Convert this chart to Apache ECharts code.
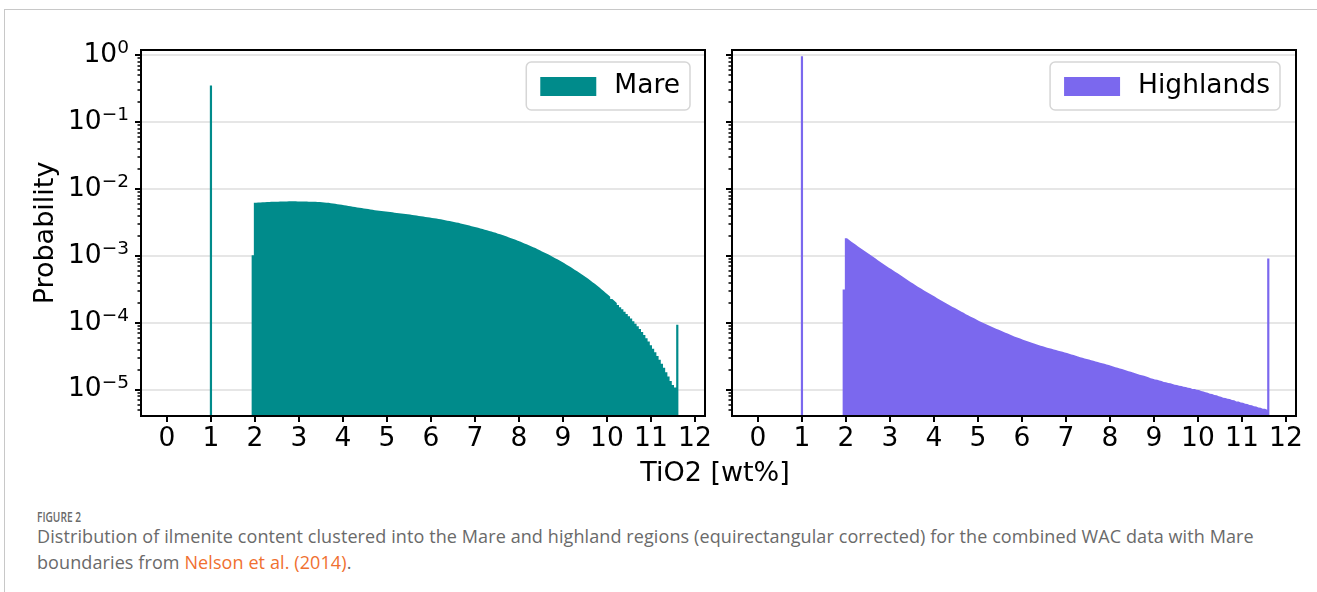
<!DOCTYPE html>
<html>
<head>
<meta charset="utf-8">
<script src="https://cdn.jsdelivr.net/npm/echarts@6/dist/echarts.min.js"></script>
<style>
  html, body { margin: 0; padding: 0; background: #fff; width: 1317px; height: 592px; overflow: hidden; }
  #frame { position: absolute; left: 4px; top: 9px; width: 1400px; height: 700px;
           border-top: 1px solid #c8c8c8; border-left: 1px solid #c8c8c8; }
  #chart { position: absolute; left: 0; top: 0; width: 1317px; height: 500px; }
  .caption { position: absolute; left: 37px; font-family: 'Open Sans', sans-serif; color: #6a6a6a;
             transform-origin: 0 0; white-space: nowrap; }
  #figlabel { top: 507px; font-size: 14.5px; font-weight: 600; transform: scaleX(0.7); }
  #figtext { top: 523px; font-size: 18px; line-height: 26px; letter-spacing: 0.1px; }
  #figtext a { color: #f07030; text-decoration: none; }
</style>
</head>
<body>
<div id="frame"></div>
<div id="chart"></div>
<div class="caption" id="figlabel">FIGURE 2</div>
<div class="caption" id="figtext">Distribution of ilmenite content clustered into the Mare and highland regions (equirectangular corrected) for the combined WAC data with Mare<br>boundaries from <a>Nelson et al. (2014)</a>.</div>
<script>
// Histogram bins (TiO2 wt%): uniform bins starting at FIRST_EDGE.
// Index 0 is the partial bin just below 2 wt%, the last entry is the bin
// where values clipped at the upper limit pile up.
const BIN_WIDTH = 0.05;
const FIRST_EDGE = 1.925;
// Values clipped at the lower limit all land in one bin at 1 wt%.
const CLIP_LOW_X = 1.0;

const mareClipLow = 0.35;
const mareProb = [
  1.02e-3,
  6.19e-3, 6.24e-3, 6.27e-3, 6.30e-3, 6.32e-3, 6.35e-3, 6.37e-3, 6.40e-3, 6.41e-3, 6.43e-3,
  6.44e-3, 6.46e-3, 6.47e-3, 6.49e-3, 6.49e-3, 6.50e-3, 6.50e-3, 6.50e-3, 6.50e-3, 6.49e-3,
  6.49e-3, 6.47e-3, 6.46e-3, 6.46e-3, 6.44e-3, 6.43e-3, 6.41e-3, 6.40e-3, 6.37e-3, 6.34e-3,
  6.31e-3, 6.27e-3, 6.22e-3, 6.17e-3, 6.11e-3, 6.04e-3, 5.97e-3, 5.90e-3, 5.83e-3, 5.77e-3,
  5.69e-3, 5.62e-3, 5.55e-3, 5.48e-3, 5.42e-3, 5.35e-3, 5.28e-3, 5.22e-3, 5.15e-3, 5.09e-3,
  5.04e-3, 4.98e-3, 4.91e-3, 4.85e-3, 4.80e-3, 4.75e-3, 4.71e-3, 4.66e-3, 4.61e-3, 4.57e-3,
  4.53e-3, 4.49e-3, 4.45e-3, 4.41e-3, 4.37e-3, 4.33e-3, 4.29e-3, 4.25e-3, 4.21e-3, 4.17e-3,
  4.12e-3, 4.07e-3, 4.03e-3, 3.98e-3, 3.94e-3, 3.90e-3, 3.85e-3, 3.81e-3, 3.77e-3, 3.72e-3,
  3.67e-3, 3.63e-3, 3.59e-3, 3.55e-3, 3.50e-3, 3.45e-3, 3.40e-3, 3.34e-3, 3.30e-3, 3.24e-3,
  3.20e-3, 3.15e-3, 3.10e-3, 3.04e-3, 2.99e-3, 2.93e-3, 2.88e-3, 2.82e-3, 2.77e-3, 2.72e-3,
  2.66e-3, 2.61e-3, 2.55e-3, 2.50e-3, 2.45e-3, 2.40e-3, 2.34e-3, 2.30e-3, 2.25e-3, 2.20e-3,
  2.14e-3, 2.09e-3, 2.04e-3, 1.99e-3, 1.94e-3, 1.88e-3, 1.83e-3, 1.78e-3, 1.73e-3, 1.68e-3,
  1.63e-3, 1.58e-3, 1.53e-3, 1.48e-3, 1.44e-3, 1.39e-3, 1.34e-3, 1.30e-3, 1.25e-3, 1.21e-3,
  1.16e-3, 1.12e-3, 1.08e-3, 1.04e-3, 9.98e-4, 9.59e-4, 9.20e-4, 8.83e-4, 8.47e-4, 8.11e-4,
  7.76e-4, 7.41e-4, 7.08e-4, 6.76e-4, 6.44e-4, 6.14e-4, 5.85e-4, 5.57e-4, 5.30e-4, 5.02e-4,
  4.76e-4, 4.51e-4, 4.27e-4, 4.03e-4, 3.80e-4, 3.58e-4, 3.37e-4, 3.16e-4, 2.96e-4, 2.78e-4,
  2.60e-4, 2.43e-4, 2.26e-4, 2.11e-4, 1.97e-4, 1.83e-4, 1.70e-4, 1.58e-4, 1.46e-4, 1.35e-4,
  1.25e-4, 1.15e-4, 1.05e-4, 9.66e-5, 8.81e-5, 8.02e-5, 7.26e-5, 6.55e-5, 5.86e-5, 5.21e-5,
  4.61e-5, 4.07e-5, 3.60e-5, 3.17e-5, 2.78e-5, 2.43e-5, 2.11e-5, 1.82e-5, 1.56e-5, 1.34e-5,
  1.17e-5, 1.07e-5,
  9.3e-5
];

const highlandsClipLow = 0.96;
const highlandsProb = [
  3.14e-4,
  1.82e-3, 1.72e-3, 1.62e-3, 1.54e-3, 1.46e-3, 1.38e-3, 1.31e-3, 1.24e-3, 1.18e-3, 1.12e-3,
  1.06e-3, 1.01e-3, 9.55e-4, 9.06e-4, 8.59e-4, 8.15e-4, 7.73e-4, 7.35e-4, 6.98e-4, 6.64e-4,
  6.31e-4, 6.01e-4, 5.73e-4, 5.46e-4, 5.19e-4, 4.93e-4, 4.69e-4, 4.46e-4, 4.24e-4, 4.03e-4,
  3.83e-4, 3.65e-4, 3.48e-4, 3.32e-4, 3.17e-4, 3.03e-4, 2.89e-4, 2.77e-4, 2.65e-4, 2.54e-4,
  2.43e-4, 2.32e-4, 2.22e-4, 2.13e-4, 2.04e-4, 1.95e-4, 1.87e-4, 1.79e-4, 1.72e-4, 1.65e-4,
  1.58e-4, 1.52e-4, 1.46e-4, 1.40e-4, 1.34e-4, 1.29e-4, 1.24e-4, 1.19e-4, 1.15e-4, 1.10e-4,
  1.06e-4, 1.02e-4, 9.84e-5, 9.51e-5, 9.18e-5, 8.87e-5, 8.59e-5, 8.32e-5, 8.05e-5, 7.80e-5,
  7.55e-5, 7.31e-5, 7.08e-5, 6.86e-5, 6.64e-5, 6.43e-5, 6.22e-5, 6.05e-5, 5.89e-5, 5.73e-5,
  5.57e-5, 5.42e-5, 5.27e-5, 5.13e-5, 5.00e-5, 4.88e-5, 4.75e-5, 4.63e-5, 4.53e-5, 4.43e-5,
  4.33e-5, 4.23e-5, 4.14e-5, 4.06e-5, 3.97e-5, 3.89e-5, 3.81e-5, 3.73e-5, 3.66e-5, 3.58e-5,
  3.51e-5, 3.43e-5, 3.35e-5, 3.27e-5, 3.20e-5, 3.13e-5, 3.05e-5, 2.99e-5, 2.92e-5, 2.86e-5,
  2.80e-5, 2.74e-5, 2.69e-5, 2.63e-5, 2.58e-5, 2.52e-5, 2.47e-5, 2.42e-5, 2.37e-5, 2.32e-5,
  2.26e-5, 2.21e-5, 2.16e-5, 2.11e-5, 2.07e-5, 2.02e-5, 1.97e-5, 1.93e-5, 1.88e-5, 1.84e-5,
  1.80e-5, 1.75e-5, 1.71e-5, 1.67e-5, 1.63e-5, 1.60e-5, 1.56e-5, 1.52e-5, 1.48e-5, 1.45e-5,
  1.41e-5, 1.40e-5, 1.36e-5, 1.34e-5, 1.30e-5, 1.29e-5, 1.25e-5, 1.24e-5, 1.21e-5, 1.18e-5,
  1.17e-5, 1.14e-5, 1.13e-5, 1.10e-5, 1.09e-5, 1.06e-5, 1.05e-5, 1.02e-5, 1.02e-5, 9.90e-6,
  9.80e-6, 9.52e-6, 9.38e-6, 9.08e-6, 8.95e-6, 8.68e-6, 8.55e-6, 8.28e-6, 8.18e-6, 7.90e-6,
  7.80e-6, 7.55e-6, 7.50e-6, 7.25e-6, 7.20e-6, 6.95e-6, 6.90e-6, 6.65e-6, 6.62e-6, 6.40e-6,
  6.35e-6, 6.12e-6, 6.08e-6, 5.88e-6, 5.82e-6, 5.62e-6, 5.58e-6, 5.40e-6, 5.35e-6, 5.18e-6,
  5.14e-6, 5.00e-6,
  9.1e-4
];

const xTicks = [0, 1, 2, 3, 4, 5, 6, 7, 8, 9, 10, 11, 12];
const yMajorTicks = [1e-5, 1e-4, 1e-3, 1e-2, 1e-1, 1];
const yMinorTicks = [
  5e-6, 6e-6, 7e-6, 8e-6, 9e-6,
  2e-5, 3e-5, 4e-5, 5e-5, 6e-5, 7e-5, 8e-5, 9e-5,
  2e-4, 3e-4, 4e-4, 5e-4, 6e-4, 7e-4, 8e-4, 9e-4,
  2e-3, 3e-3, 4e-3, 5e-3, 6e-3, 7e-3, 8e-3, 9e-3,
  2e-2, 3e-2, 4e-2, 5e-2, 6e-2, 7e-2, 8e-2, 9e-2,
  0.2, 0.3, 0.4, 0.5, 0.6, 0.7, 0.8, 0.9
];

const X_MIN = -0.59, X_MAX = 12.23;
const Y_MIN = 4.02e-6, Y_MAX = 1.19;

const MARE_COLOR = '#008b8b';
const HIGHLANDS_COLOR = '#7b68ee';
const FONT = 'DejaVu Sans';

function stepPoints(probs) {
  const pts = probs.map((p, i) => [+(FIRST_EDGE + i * BIN_WIDTH).toFixed(4), p]);
  pts.push([+(FIRST_EDGE + probs.length * BIN_WIDTH).toFixed(4), probs[probs.length - 1]]);
  return pts;
}
function clipPoints(p) {
  return [[CLIP_LOW_X - BIN_WIDTH / 2, p], [CLIP_LOW_X + BIN_WIDTH / 2, p]];
}

function powerLabel(v) {
  const e = Math.round(Math.log10(v));
  const exp = e < 0 ? '\u2212' + (-e) : String(e);
  return '{b|10}{s|' + exp + '}';
}

const grids = [
  { left: 141, top: 50, width: 564, height: 366 },
  { left: 732, top: 50, width: 564, height: 366 }
];

const xAxes = grids.map((g, i) => ({
  type: 'value', gridIndex: i, min: X_MIN, max: X_MAX, position: 'bottom',
  axisLine: { show: false, onZero: false },
  splitLine: { show: false },
  axisTick: { customValues: xTicks, length: 6, lineStyle: { color: '#000', width: 2 } },
  axisLabel: { customValues: xTicks, color: '#000', fontFamily: FONT, fontSize: 26.5, margin: 10 }
}));

const yAxes = [];
grids.forEach((g, i) => {
  yAxes.push({
    type: 'log', logBase: 10, gridIndex: i, min: Y_MIN, max: Y_MAX, position: 'left',
    name: i === 0 ? 'Probability' : '',
    nameLocation: 'middle', nameGap: 82, nameRotate: 90,
    nameTextStyle: { color: '#000', fontFamily: FONT, fontSize: 27 },
    axisLine: { show: false, onZero: false },
    splitLine: { show: true, lineStyle: { color: '#dedede', width: 1.5 } },
    axisTick: { customValues: yMajorTicks, length: 6, lineStyle: { color: '#000', width: 2 } },
    axisLabel: {
      show: i === 0, customValues: yMajorTicks, margin: 12,
      formatter: powerLabel,
      rich: {
        b: { color: '#000', fontFamily: FONT, fontSize: 26.5, lineHeight: 32 },
        s: { color: '#000', fontFamily: FONT, fontSize: 18.5, lineHeight: 22, verticalAlign: 'top' }
      }
    }
  });
  yAxes.push({
    type: 'log', logBase: 10, gridIndex: i, min: Y_MIN, max: Y_MAX, position: 'left',
    axisLine: { show: false, onZero: false }, splitLine: { show: false }, axisLabel: { show: false },
    axisTick: { customValues: yMinorTicks, length: 3.5, lineStyle: { color: '#000', width: 1.5 } }
  });
});

function histSeries(name, color, gridIdx, data) {
  return {
    type: 'line', name: name, data: data,
    xAxisIndex: gridIdx, yAxisIndex: gridIdx * 2,
    step: 'end', symbol: 'none', silent: true, clip: true,
    color: color, itemStyle: { color: color },
    lineStyle: { width: 0, opacity: 0 },
    areaStyle: { color: color, opacity: 1, origin: 'start' },
    emphasis: { disabled: true }, z: 2
  };
}

const legendBase = {
  orient: 'vertical', top: 62, icon: 'rect', itemWidth: 56, itemHeight: 19,
  selectedMode: false,
  backgroundColor: 'rgba(255,255,255,0.8)', borderColor: '#d6d6d6', borderWidth: 1.5, borderRadius: 5,
  padding: [11, 10, 10, 14],
  textStyle: { color: '#000', fontFamily: FONT, fontSize: 26.5, padding: [0, 0, 0, 13] }
};

const option = {
  animation: false,
  grid: grids.map(g => Object.assign({ show: true, borderColor: '#000', borderWidth: 2,
                                        backgroundColor: 'transparent', z: 10 }, g)),
  xAxis: xAxes,
  yAxis: yAxes,
  title: {
    text: 'TiO2 [wt%]', left: 710, top: 455, textAlign: 'center',
    textStyle: { color: '#000', fontFamily: FONT, fontSize: 27, fontWeight: 'normal' }
  },
  legend: [
    Object.assign({}, legendBase, { right: 627, data: ['Mare'] }),
    Object.assign({}, legendBase, { right: 37, data: ['Highlands'] })
  ],
  series: [
    histSeries('Mare', MARE_COLOR, 0, clipPoints(mareClipLow)),
    histSeries('Mare', MARE_COLOR, 0, stepPoints(mareProb)),
    histSeries('Highlands', HIGHLANDS_COLOR, 1, clipPoints(highlandsClipLow)),
    histSeries('Highlands', HIGHLANDS_COLOR, 1, stepPoints(highlandsProb))
  ]
};

const chart = echarts.init(document.getElementById('chart'), null, { renderer: 'canvas' });
chart.setOption(option);
</script>
</body>
</html>
